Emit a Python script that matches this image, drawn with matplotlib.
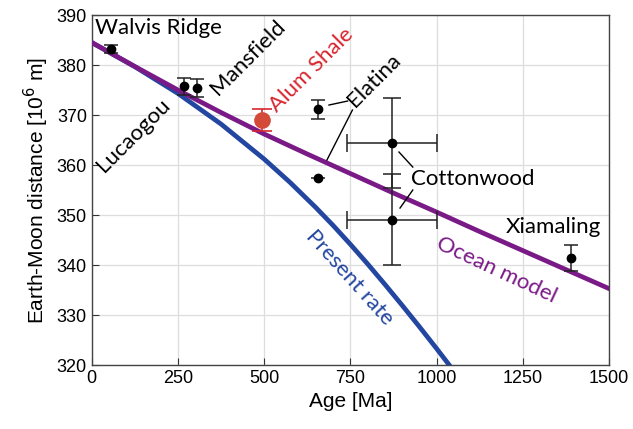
import matplotlib
matplotlib.use("Agg")
import matplotlib.pyplot as plt

# model curves (age in Ma, distance in 10^6 m)
ocean_age = [0, 125, 250, 375, 500, 625, 750, 875, 1000, 1125, 1250, 1375, 1500]
ocean_dist = [384.5, 379.7, 375.0, 370.5, 366.2, 362.2, 358.3, 354.4, 350.6,
              346.7, 342.9, 339.1, 335.3]

present_age = [0, 125, 250, 375, 500, 575, 650, 700, 750, 800, 850, 900, 950,
               1000, 1036]
present_dist = [384.5, 379.66, 374.31, 368.19, 361.19, 356.53, 351.49, 347.92,
                344.15, 340.23, 336.15, 331.97, 327.69, 323.31, 320.08]

# geological estimates
site_age = [55, 267, 305, 656, 656, 870, 870, 1390]
site_dist = [383.2, 375.8, 375.4, 371.2, 357.4, 364.4, 349.1, 341.4]
site_yerr = [0.8, 1.7, 1.8, 1.9, 0.0, 9.0, 9.1, 2.6]
site_xerr = [0, 0, 0, 0, 19, 130, 130, 0]

alum_age = 493
alum_dist = 369.0
alum_yerr = 2.2

purple = "#7a1a87"
blue = "#2346a0"
red = "#d7262f"
ann_font = "Lato"

fig = plt.figure(figsize=(6.33, 4.29), dpi=100)
ax = fig.add_axes([0.145, 0.149, 0.817, 0.816])

ax.plot(present_age, present_dist, color=blue, lw=3.4, zorder=3,
        solid_joinstyle="round")
ax.plot(ocean_age, ocean_dist, color=purple, lw=3.4, zorder=3,
        solid_joinstyle="round")

for a, d, xe, ye in zip(site_age, site_dist, site_xerr, site_yerr):
    if xe > 50:
        cap = 6.5
    elif xe > 0:
        cap = 0
    else:
        cap = 5
    ax.errorbar(a, d, xerr=xe if xe else None, yerr=ye if ye else None,
                fmt="o", color="black", ms=6, ecolor="#222222",
                elinewidth=1.1, capsize=cap, capthick=1.1, zorder=4)

ax.errorbar(alum_age, alum_dist, yerr=alum_yerr, fmt="o", color="#d34a38",
            ms=11, ecolor=red, elinewidth=1.2, capsize=7, capthick=1.2,
            zorder=4)

ax.set_xlim(0, 1500)
ax.set_ylim(320, 390)
ax.set_xticks([0, 250, 500, 750, 1000, 1250, 1500])
ax.set_yticks(range(320, 391, 10))
ax.grid(True, color="#dddddd", lw=0.9)
ax.set_axisbelow(True)
ax.tick_params(direction="in", length=5, labelsize=13, color="#333333",
               top=False, right=False)
for s in ax.spines.values():
    s.set_color("#444444")
    s.set_linewidth(1.0)

ax.set_xlabel("Age [Ma]", fontsize=15, family="Liberation Sans")
ax.set_ylabel("Earth-Moon distance [10$^6$ m]", fontsize=15,
              family="Liberation Sans")
for lab in ax.get_xticklabels() + ax.get_yticklabels():
    lab.set_family("Liberation Sans")

# labels
fs = 16
ax.text(9, 387.4, "Walvis Ridge", fontsize=fs, family=ann_font,
        ha="left", va="center")
ax.text(36, 358.4, "Lucaogou", fontsize=fs, family=ann_font, rotation=45,
        rotation_mode="anchor", ha="left", va="baseline")
ax.text(366, 373.8, "Mansfield", fontsize=fs, family=ann_font, rotation=45,
        rotation_mode="anchor", ha="left", va="baseline")
ax.text(538, 370.4, "Alum Shale", fontsize=fs, family=ann_font, rotation=45,
        rotation_mode="anchor", ha="left", va="baseline", color=red)
ax.text(762, 371.4, "Elatina", fontsize=fs, family=ann_font, rotation=45,
        rotation_mode="anchor", ha="left", va="baseline")
ax.text(925, 357.2, "Cottonwood", fontsize=fs, family=ann_font,
        ha="left", va="center")
ax.text(1201, 347.6, "Xiamaling", fontsize=fs, family=ann_font,
        ha="left", va="center")
ax.text(1175, 339.0, "Ocean model", fontsize=fs, family=ann_font,
        rotation=-25, rotation_mode="anchor", ha="center", va="center",
        color=purple)
ax.text(748, 337.4, "Present rate", fontsize=fs, family=ann_font,
        rotation=-48, rotation_mode="anchor", ha="center", va="center",
        color=blue)

# leader lines
leaders = [((688, 372.0), (742, 372.8)),
           ((682, 361.0), (756, 371.0)),
           ((891, 362.6), (931, 359.6)),
           ((894, 351.4), (931, 355.0))]
for (x0, y0), (x1, y1) in leaders:
    ax.plot([x0, x1], [y0, y1], color="black", lw=1.0, zorder=5)

fig.savefig("out.png", dpi=100)
